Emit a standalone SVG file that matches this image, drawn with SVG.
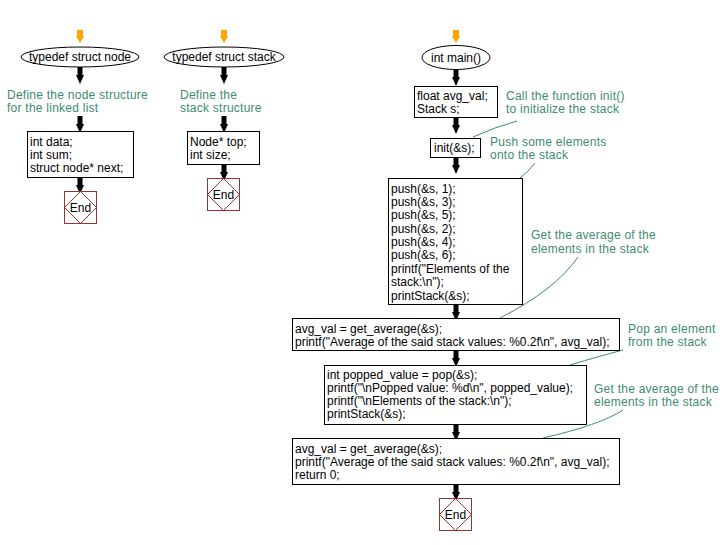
<svg xmlns="http://www.w3.org/2000/svg" width="728" height="545" viewBox="0 0 728 545">
<defs>
<style>
text{font-family:"Liberation Sans",Arial,sans-serif;font-size:12px;fill:#000}
.note{fill:#3d8b6e;letter-spacing:0.25px}
.box{fill:#fff;stroke:#000;stroke-width:1}
.ell{fill:#fff;stroke:#000;stroke-width:1}
.endr{fill:#fff;stroke:#993333;stroke-width:1}
.endd{fill:none;stroke:#993333;stroke-width:1}
.lead{fill:none;stroke:#3d8b6e;stroke-width:1}
.ar{fill:#000}
.st{fill:#ffa500}
</style>
<symbol id="arr" overflow="visible"><polygon points="-2.5,0 2.5,0 2.5,8 4,8 0,17 -4,8 -2.5,8"/></symbol>
<symbol id="start" overflow="visible"><polygon points="-3,0 3,0 3,6 4,6 0,13 -4,6 -3,6"/></symbol>
</defs>
<rect width="728" height="545" fill="#fff"/>
<g id="connectors">
<use href="#start" x="80" y="30" class="st"/>
<use href="#start" x="224" y="30" class="st"/>
<use href="#start" x="456" y="30" class="st"/>
<use href="#arr" x="80" y="67" class="ar"/>
<use href="#arr" x="80" y="116" class="ar"/>
<use href="#arr" x="80" y="177" class="ar"/>
<use href="#arr" x="224" y="67" class="ar"/>
<use href="#arr" x="224" y="116" class="ar"/>
<use href="#arr" x="224" y="164" class="ar"/>
<use href="#arr" x="456" y="69" class="ar"/>
<use href="#arr" x="456" y="117" class="ar"/>
<use href="#arr" x="456" y="157" class="ar"/>
<use href="#arr" x="456" y="304" class="ar"/>
<use href="#arr" x="456" y="350" class="ar"/>
<use href="#arr" x="456" y="424" class="ar"/>
<use href="#arr" x="456" y="484" class="ar"/>
<path class="lead" d="M473,137 Q495,127 517,121"/>
<path class="lead" d="M520,178 Q528,172 535,163"/>
<path class="lead" d="M500,318 Q555,290 578,257"/>
<path class="lead" d="M570,365 Q600,356 623,350"/>
<path class="lead" d="M543,438 Q600,425 623,410"/>
</g>
<g id="n1">
<ellipse class="ell" cx="80" cy="57" rx="59" ry="10"/>
<text x="80" y="61" text-anchor="middle">typedef struct node</text>
</g>
<g id="n1note">
<text class="note" x="7" y="99">Define the node structure</text>
<text class="note" x="7" y="112">for the linked list</text>
</g>
<g id="n1body">
<rect class="box" x="27.5" y="131.5" width="106" height="46"/>
<text x="30" y="146">int data;</text>
<text x="30" y="159">int sum;</text>
<text x="30" y="172">struct node* next;</text>
</g>
<g id="n1end">
<rect class="endr" x="64.5" y="191.5" width="32" height="32"/>
<polygon class="endd" points="80.5,191.5 96.5,207.5 80.5,223.5 64.5,207.5"/>
<text x="80.5" y="212" text-anchor="middle">End</text>
</g>
<g id="n2">
<ellipse class="ell" cx="224" cy="57" rx="60" ry="10"/>
<text x="224" y="61" text-anchor="middle">typedef struct stack</text>
</g>
<g id="n2note">
<text class="note" x="180" y="99">Define the</text>
<text class="note" x="180" y="112">stack structure</text>
</g>
<g id="n2body">
<rect class="box" x="187.5" y="131.5" width="72" height="33"/>
<text x="190" y="146">Node* top;</text>
<text x="190" y="159">int size;</text>
</g>
<g id="n2end">
<rect class="endr" x="207.5" y="178.5" width="32" height="32"/>
<polygon class="endd" points="223.5,178.5 239.5,194.5 223.5,210.5 207.5,194.5"/>
<text x="223.5" y="199" text-anchor="middle">End</text>
</g>
<g id="main">
<ellipse class="ell" cx="456" cy="57.5" rx="34" ry="12"/>
<text x="456" y="62" text-anchor="middle">int main()</text>
</g>
<g id="decl">
<rect class="box" x="414.5" y="86.5" width="83" height="31"/>
<text x="417" y="100">float avg_val;</text>
<text x="417" y="113">Stack s;</text>
</g>
<g id="initnote">
<text class="note" x="506" y="100">Call the function init()</text>
<text class="note" x="506" y="113">to initialize the stack</text>
</g>
<g id="init">
<rect class="box" x="430.5" y="138.5" width="50" height="19"/>
<text x="434" y="152">init(&amp;s);</text>
</g>
<g id="pushnote">
<text class="note" x="490" y="146">Push some elements</text>
<text class="note" x="490" y="159">onto the stack</text>
</g>
<g id="push">
<rect class="box" x="388.5" y="178.5" width="134" height="126"/>
<text x="391" y="193">push(&amp;s, 1);</text>
<text x="391" y="206">push(&amp;s, 3);</text>
<text x="391" y="219">push(&amp;s, 5);</text>
<text x="391" y="233">push(&amp;s, 2);</text>
<text x="391" y="246">push(&amp;s, 4);</text>
<text x="391" y="259">push(&amp;s, 6);</text>
<text x="391" y="273">printf("Elements of the</text>
<text x="391" y="286">stack:\n");</text>
<text x="391" y="300">printStack(&amp;s);</text>
</g>
<g id="avgnote1">
<text class="note" x="531" y="239">Get the average of the</text>
<text class="note" x="531" y="253">elements in the stack</text>
</g>
<g id="avg1">
<rect class="box" x="292.5" y="318.5" width="327" height="32"/>
<text x="295" y="333">avg_val = get_average(&amp;s);</text>
<text x="295" y="346">printf("Average of the said stack values: %0.2f\n", avg_val);</text>
</g>
<g id="popnote">
<text class="note" x="628" y="333">Pop an element</text>
<text class="note" x="628" y="346">from the stack</text>
</g>
<g id="pop">
<rect class="box" x="324.5" y="365.5" width="262" height="59"/>
<text x="327" y="379">int popped_value = pop(&amp;s);</text>
<text x="327" y="392">printf("\nPopped value: %d\n", popped_value);</text>
<text x="327" y="405">printf("\nElements of the stack:\n");</text>
<text x="327" y="418">printStack(&amp;s);</text>
</g>
<g id="avgnote2">
<text class="note" x="594" y="393">Get the average of the</text>
<text class="note" x="594" y="406">elements in the stack</text>
</g>
<g id="avg2">
<rect class="box" x="292.5" y="438.5" width="327" height="46"/>
<text x="295" y="453">avg_val = get_average(&amp;s);</text>
<text x="295" y="466">printf("Average of the said stack values: %0.2f\n", avg_val);</text>
<text x="295" y="479">return 0;</text>
</g>
<g id="mainend">
<rect class="endr" x="439.5" y="498.5" width="32" height="32"/>
<polygon class="endd" points="455.5,498.5 471.5,514.5 455.5,530.5 439.5,514.5"/>
<text x="455.5" y="519" text-anchor="middle">End</text>
</g>
</svg>
